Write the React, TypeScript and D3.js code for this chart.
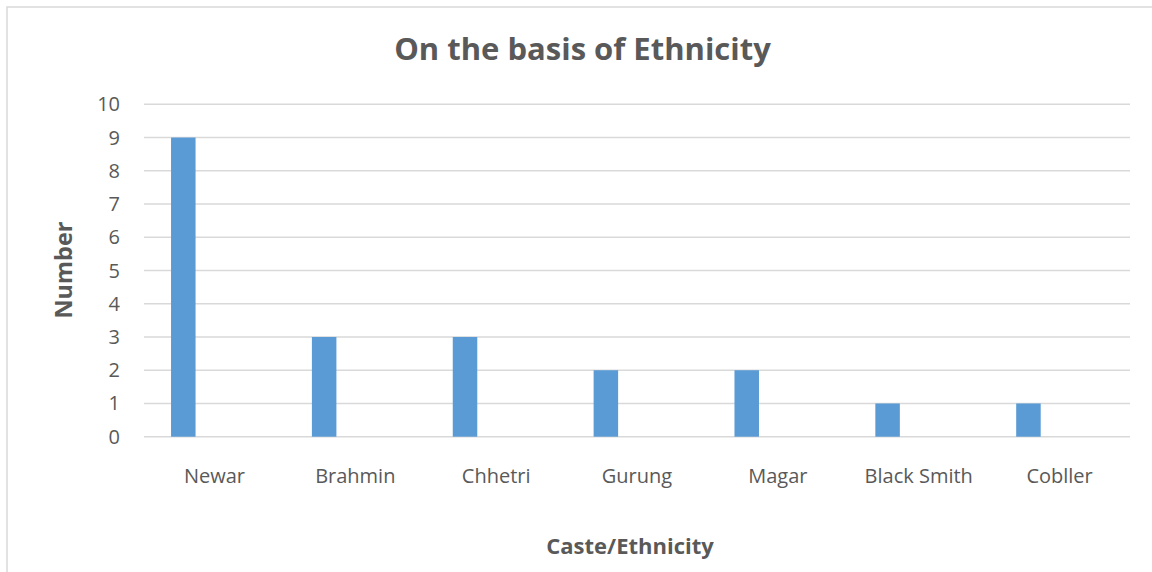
import React from "react";
import * as d3 from "d3";

const categories = ["Newar", "Brahmin", "Chhetri", "Gurung", "Magar", "Black Smith", "Cobller"];
const counts = [9, 3, 3, 2, 2, 1, 1];
const yTicks = [0, 1, 2, 3, 4, 5, 6, 7, 8, 9, 10];
const chartTitle = "On the basis of Ethnicity";
const xAxisTitle = "Caste/Ethnicity";
const yAxisTitle = "Number";

const W = 1152;
const H = 572;
const plot = { left: 144, right: 1130, top: 104.3, bottom: 436.7 };
const FONT = "'Open Sans', 'Noto Sans', sans-serif";
const TEXT = "#595959";
const GRID = "#d9d9d9";
const BAR = "#5b9bd5";

export default function App() {
  const x = d3.scaleBand<string>().domain(categories).range([plot.left, plot.right]).padding(0);
  const y = d3.scaleLinear().domain([0, 10]).range([plot.bottom, plot.top]);
  const bw = x.bandwidth();
  const barOffset = bw * 0.192;
  const barWidth = bw * 0.174;

  return (
    <svg
      width={W}
      height={H}
      style={{ position: "absolute", left: 0, top: 0, background: "#fff" }}
      fontFamily={FONT}
    >
      <rect x={7} y={7} width={W + 20} height={H + 20} fill="#fff" stroke={GRID} strokeWidth={1.5} />

      <text x={582.5} y={60} textAnchor="middle" fontSize={31} fontWeight={700} fill={TEXT}>
        {chartTitle}
      </text>

      {yTicks.map((t) => (
        <g key={t}>
          <line x1={plot.left} x2={plot.right} y1={y(t)} y2={y(t)} stroke={GRID} strokeWidth={1.5} />
          <text x={120} y={y(t)} dy="0.35em" textAnchor="end" fontSize={20} fill={TEXT}>
            {t}
          </text>
        </g>
      ))}

      {categories.map((c, i) => (
        <g key={c}>
          <rect
            x={(x(c) ?? 0) + barOffset}
            y={y(counts[i])}
            width={barWidth}
            height={y(0) - y(counts[i])}
            fill={BAR}
          />
          <text x={(x(c) ?? 0) + bw / 2} y={483} textAnchor="middle" fontSize={20} fill={TEXT}>
            {c}
          </text>
        </g>
      ))}

      <text x={630} y={554} textAnchor="middle" fontSize={22} fontWeight={700} fill={TEXT}>
        {xAxisTitle}
      </text>
      <text
        transform={`translate(71.5, 270) rotate(-90)`}
        textAnchor="middle"
        fontSize={23.5}
        fontWeight={700}
        fill={TEXT}
      >
        {yAxisTitle}
      </text>
    </svg>
  );
}
